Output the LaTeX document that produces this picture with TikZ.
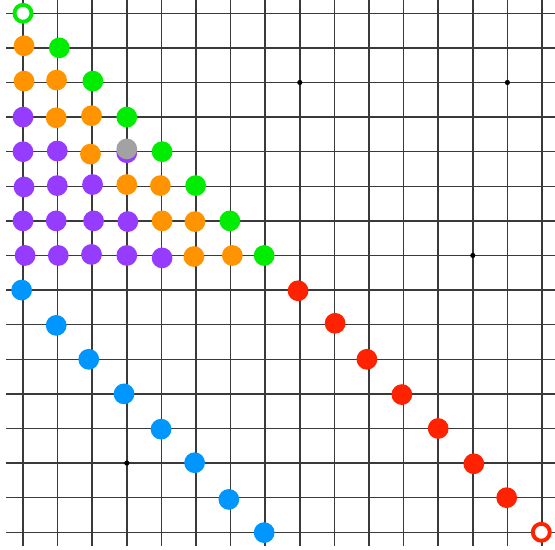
\documentclass[tikz,border=0pt]{standalone}
\usepackage{xcolor}
\usepackage{tikz}
\definecolor{dotorange}{HTML}{FF9400}
\definecolor{dotgreen}{HTML}{00EC00}
\definecolor{dotpurple}{HTML}{963CFF}
\definecolor{dotgray}{HTML}{A2A2A2}
\definecolor{dotblue}{HTML}{0096FF}
\definecolor{dotred}{HTML}{FF2200}
\definecolor{gridink}{HTML}{3A3A3A}
\tikzset{
  gridline/.style={draw=gridink, line width=1.2pt},
  dot/.style={circle, inner sep=0pt, minimum size=0.6cm},
  orangedot/.style={dot, fill=dotorange},
  greendot/.style={dot, fill=dotgreen},
  purpledot/.style={dot, fill=dotpurple},
  graydot/.style={dot, fill=dotgray},
  bluedot/.style={dot, fill=dotblue},
  reddot/.style={dot, fill=dotred},
  ringdot/.style={circle, inner sep=0pt, minimum size=0.49cm, fill=white, line width=3.2pt},
  pindot/.style={circle, inner sep=0pt, minimum size=0.15cm, fill=black}
}
\begin{document}
\begin{tikzpicture}[x=1cm,y=-1cm]
  \useasboundingbox (-0.665,-0.384) rectangle (15.376,15.51);

  % grid
  \foreach \k in {0,...,15} {
    \draw[gridline] (-0.49,\k) -- (15.376,\k);
    \draw[gridline] (\k,-0.384) -- (\k,15.40);
  }

  % small marks
  \node[pindot] (m1) at (8,2) {};
  \node[pindot] (m2) at (14,2) {};
  \node[pindot] (m3) at (13,7) {};
  \node[pindot] (m4) at (3,13) {};

  % upper triangle
  \node[ringdot, draw=dotgreen] (g0) at (0,0) {};

  \node[orangedot] (o1a) at (0.03,0.94) {};
  \node[greendot] (g1) at (1.05,1.0) {};

  \node[orangedot] (o2a) at (0.03,1.96) {};
  \node[orangedot] (o2b) at (0.97,1.93) {};
  \node[greendot] (g2) at (2.02,1.96) {};

  \node[purpledot] (p3a) at (0,3) {};
  \node[orangedot] (o3a) at (0.96,3.02) {};
  \node[orangedot] (o3b) at (1.98,2.96) {};
  \node[greendot] (g3) at (3,3) {};

  \node[purpledot] (p4a) at (0,4) {};
  \node[purpledot] (p4b) at (0.99,3.98) {};
  \node[orangedot] (o4a) at (1.95,4.07) {};
  \node[purpledot] (p4c) at (3,4.03) {};
  \node[graydot] (x4) at (3,3.92) {};
  \node[greendot] (g4) at (4.02,4) {};

  \node[purpledot] (p5a) at (0.03,5.02) {};
  \node[purpledot] (p5b) at (0.99,4.98) {};
  \node[purpledot] (p5c) at (2.01,4.95) {};
  \node[orangedot] (o5a) at (3,4.95) {};
  \node[orangedot] (o5b) at (3.97,4.98) {};
  \node[greendot] (g5) at (4.99,4.98) {};

  \node[purpledot] (p6a) at (0,6) {};
  \node[purpledot] (p6b) at (0.96,6) {};
  \node[purpledot] (p6c) at (2.04,6) {};
  \node[purpledot] (p6d) at (3.03,6.02) {};
  \node[orangedot] (o6a) at (4.02,6) {};
  \node[orangedot] (o6b) at (4.97,6.02) {};
  \node[greendot] (g6) at (5.98,6) {};

  \node[purpledot] (p7a) at (0.06,7) {};
  \node[purpledot] (p7b) at (1.02,7) {};
  \node[purpledot] (p7c) at (1.98,6.97) {};
  \node[purpledot] (p7d) at (3.0,7) {};
  \node[purpledot] (p7e) at (4.02,7.07) {};
  \node[orangedot] (o7a) at (4.94,7.03) {};
  \node[orangedot] (o7b) at (6.05,7) {};
  \node[greendot] (g7) at (6.97,7) {};

  % blue diagonal
  \node[bluedot] (b8) at (-0.04,8) {};
  \node[bluedot] (b9) at (0.96,9.02) {};
  \node[bluedot] (b10) at (1.9,10) {};
  \node[bluedot] (b11) at (2.92,11) {};
  \node[bluedot] (b12) at (3.99,12.02) {};
  \node[bluedot] (b13) at (4.96,12.99) {};
  \node[bluedot] (b14) at (5.95,14.05) {};
  \node[bluedot] (b15) at (6.97,15.01) {};

  % red diagonal
  \node[reddot] (r8) at (7.95,8.02) {};
  \node[reddot] (r9) at (9.02,8.96) {};
  \node[reddot] (r10) at (9.94,10) {};
  \node[reddot] (r11) at (10.95,11.02) {};
  \node[reddot] (r12) at (12.0,12.0) {};
  \node[reddot] (r13) at (13.03,13.02) {};
  \node[reddot] (r14) at (13.98,14.0) {};
  \node[ringdot, draw=dotred] (r15) at (14.98,15.0) {};
\end{tikzpicture}
\end{document}
